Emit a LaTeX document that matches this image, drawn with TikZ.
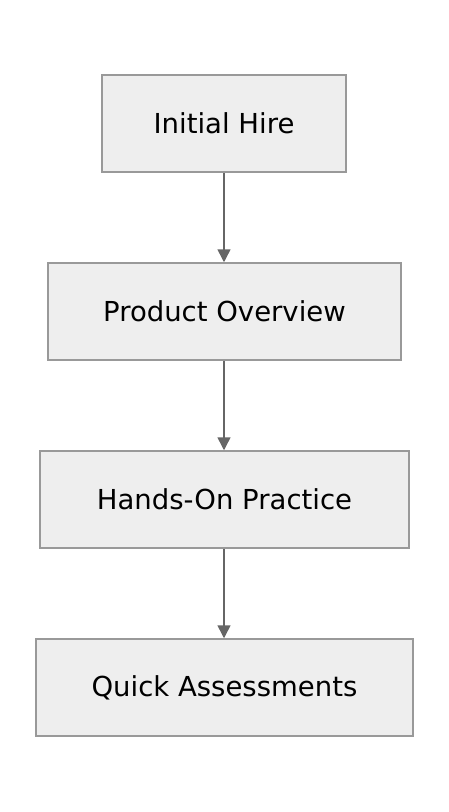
\documentclass[tikz,border=0pt]{standalone}
\usepackage{fontspec}
\setmainfont{DejaVu Sans}
\usetikzlibrary{arrows.meta}
\definecolor{boxfill}{HTML}{EEEEEE}
\definecolor{boxline}{HTML}{999999}
\definecolor{arrowcol}{HTML}{666666}
\begin{document}
\begin{tikzpicture}[x=1pt,y=-1pt,
  stepbox/.style={draw=boxline, fill=boxfill, line width=1.5pt, inner sep=0pt,
    minimum height=97pt, font=\fontsize{27.5}{32}\selectfont, text=black},
  flow/.style={draw=arrowcol, line width=1.5pt, -{Triangle[length=13pt,width=13pt]}}]
\useasboundingbox (0,0) rectangle (448,812);
\fill[white] (0,0) rectangle (448,812);
\node[stepbox, minimum width=244pt] (a) at (224,123.5) {Initial Hire};
\node[stepbox, minimum width=353pt] (b) at (224.5,311.5) {Product Overview};
\node[stepbox, minimum width=369pt] (c) at (224.5,499.5) {Hands-On Practice};
\node[stepbox, minimum width=377pt] (d) at (224.5,687.5) {Quick Assessments};
\draw[flow] (a.south) -- (a.south |- b.north);
\draw[flow] ([xshift=-0.5pt]b.south) -- ([xshift=-0.5pt]b.south |- c.north);
\draw[flow] ([xshift=-0.5pt]c.south) -- ([xshift=-0.5pt]c.south |- d.north);
\end{tikzpicture}
\end{document}
